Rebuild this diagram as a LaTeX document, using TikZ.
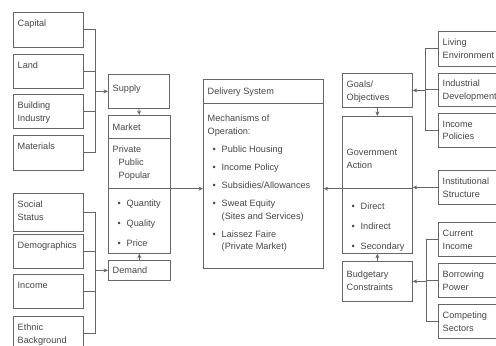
\documentclass[tikz,border=0pt]{standalone}
\usepackage{fontspec}
\setmainfont{Liberation Sans}
\usetikzlibrary{arrows.meta}
\definecolor{inkgray}{gray}{0.27}
\definecolor{linegray}{gray}{0.40}
\newcommand{\bul}{\hspace*{5bp}\makebox[9bp][l]{\textbullet}}
\newcommand{\cont}{\hspace*{14bp}}

\begin{document}
\begin{tikzpicture}[x=1bp,y=-1bp,>={Stealth[length=4.5bp,width=4bp]},
    box/.style={draw=linegray,line width=0.7pt,anchor=north west,inner sep=0pt,minimum width=70bp},
    txt/.style={anchor=north west,align=left,inner xsep=4.5bp,inner ysep=7.5bp,
        text=inkgray,font=\fontsize{9.2}{13}\selectfont},
    wire/.style={draw=linegray,line width=0.8pt}]
    \useasboundingbox (0,0) rectangle (496,345);
    \clip (0,0) rectangle (496,345);

    % supply side
    \node[box,minimum height=35bp] (capital) at (13,12) {};
    \node[box,minimum height=34bp] (land) at (13,54) {};
    \node[box,minimum height=34bp] (building) at (13,94) {};
    \node[box,minimum height=35bp] (materials) at (13,135) {};
    \node[txt] at (capital.north west) {Capital};
    \node[txt] at (land.north west) {Land};
    \node[txt] at (building.north west) {Building\\Industry};
    \node[txt] at (materials.north west) {Materials};

    % demand side
    \node[box,minimum height=38bp] (social) at (13,193) {};
    \node[box,minimum height=34bp] (demog) at (13,234) {};
    \node[box,minimum height=34bp] (income) at (13,274) {};
    \node[box,minimum height=34bp] (ethnic) at (13,316) {};
    \node[txt] at (social.north west) {Social\\Status};
    \node[txt] at (demog.north west) {Demographics};
    \node[txt] at (income.north west) {Income};
    \node[txt] at (ethnic.north west) {Ethnic\\Background};

    % market column
    \node[box,minimum width=61bp,minimum height=34bp] (supply) at (108,74) {};
    \node[box,minimum width=62bp,minimum height=23bp] (mkthead) at (108,115) {};
    \node[box,minimum width=62bp,minimum height=50bp] (mktbody) at (108,138) {};
    \node[box,minimum width=62bp,minimum height=65bp] (mktlist) at (108,188) {};
    \node[box,minimum width=62bp,minimum height=20bp] (demand) at (108,260) {};
    \node[txt,inner ysep=10.5bp] at (supply.north west) {Supply};
    \node[txt,inner ysep=9bp] at (mkthead.north west) {Market};
    \node[txt] at (mktbody.north west) {Private\\\hspace*{6bp}Public\\\hspace*{6bp}Popular};
    \node[txt,inner ysep=11.5bp] at (mktlist.north west)
        {\bul Quantity\\[7bp]\bul Quality\\[7bp]\bul Price};
    \node[txt,inner ysep=7bp] at (demand.north west) {Demand};

    % delivery system
    \node[box,minimum width=120bp,minimum height=24bp] (delhead) at (203,79) {};
    \node[box,minimum width=120bp,minimum height=165bp] (delbody) at (203,103) {};
    \node[txt,inner ysep=8.5bp] at (delhead.north west) {Delivery System};
    \node[txt,inner ysep=11.5bp] at (delbody.north west)
        {Mechanisms of\\Operation:\\[5bp]
         \bul Public Housing\\[5bp]
         \bul Income Policy\\[5bp]
         \bul Subsidies/Allowances\\[5bp]
         \bul Sweat Equity\\\cont(Sites and Services)\\[5bp]
         \bul Laissez Faire\\\cont(Private Market)};

    % government column
    \node[box,minimum height=34bp] (goals) at (342,73) {};
    \node[box,minimum height=72bp] (govtop) at (342,116) {};
    \node[box,minimum height=65bp] (govlist) at (342,188) {};
    \node[box,minimum height=40bp] (budget) at (342,261) {};
    \node[txt] at (goals.north west) {Goals/\\Objectives};
    \node[txt,inner ysep=32.5bp] at (govtop.north west) {Government\\Action};
    \node[txt,inner ysep=14.5bp] at (govlist.north west)
        {\bul Direct\\[7bp]\bul Indirect\\[7bp]\bul Secondary};
    \node[txt,inner ysep=10bp] at (budget.north west) {Budgetary\\Constraints};

    % right side
    \node[box,minimum height=35bp] (living) at (438,31) {};
    \node[box,minimum height=33bp] (industrial) at (438,73) {};
    \node[box,minimum height=34bp] (policies) at (438,113) {};
    \node[box,minimum height=34bp] (institutional) at (438,170) {};
    \node[box,minimum height=34bp] (current) at (438,222) {};
    \node[box,minimum height=34bp] (borrowing) at (438,263) {};
    \node[box,minimum height=34bp] (competing) at (438,304) {};
    \node[txt] at (living.north west) {Living\\Environment};
    \node[txt,inner ysep=6.5bp] at (industrial.north west) {Industrial\\Development};
    \node[txt] at (policies.north west) {Income\\Policies};
    \node[txt] at (institutional.north west) {Institutional\\Structure};
    \node[txt] at (current.north west) {Current\\Income};
    \node[txt] at (borrowing.north west) {Borrowing\\Power};
    \node[txt] at (competing.north west) {Competing\\Sectors};

    % connectors
    \path (supply.west) ++(-13,0) coordinate (supplybus);
    \foreach \n in {capital,land,building,materials}
        \draw[wire] (\n.east) -| (supplybus);
    \draw[wire,->] (supplybus) -- (supply.west);

    \path (demand.west) ++(-13,0) coordinate (demandbus);
    \foreach \n in {social,demog,income,ethnic}
        \draw[wire] (\n.east) -| (demandbus);
    \draw[wire,->] (demandbus) -- (demand.west);

    \path (goals.east) ++(13,0) coordinate (goalsbus);
    \foreach \n in {living,industrial,policies}
        \draw[wire] (\n.west) -| (goalsbus);
    \draw[wire,->] (goalsbus) -- (goals.east);

    \path (budget.east) ++(14,0) coordinate (budgetbus);
    \foreach \n in {current,borrowing,competing}
        \draw[wire] (\n.west) -| (budgetbus);
    \draw[wire,->] (budgetbus) -- (budget.east);

    \draw[wire,->] (institutional.west) -- (govtop.east |- institutional.west);
    \draw[wire,->] (supply.south) -- (mkthead.north);
    \draw[wire,->] (demand.north) -- (mktlist.south);
    \draw[wire,->] (goals.south) -- (govtop.north);
    \draw[wire,->] (budget.north) -- (govlist.south);
    \draw[wire,->] (mktbody.south east) -- (delbody.west |- mktbody.south east);
    \draw[wire,->] (govtop.south west) -- (delbody.east |- govtop.south west);
\end{tikzpicture}
\end{document}
